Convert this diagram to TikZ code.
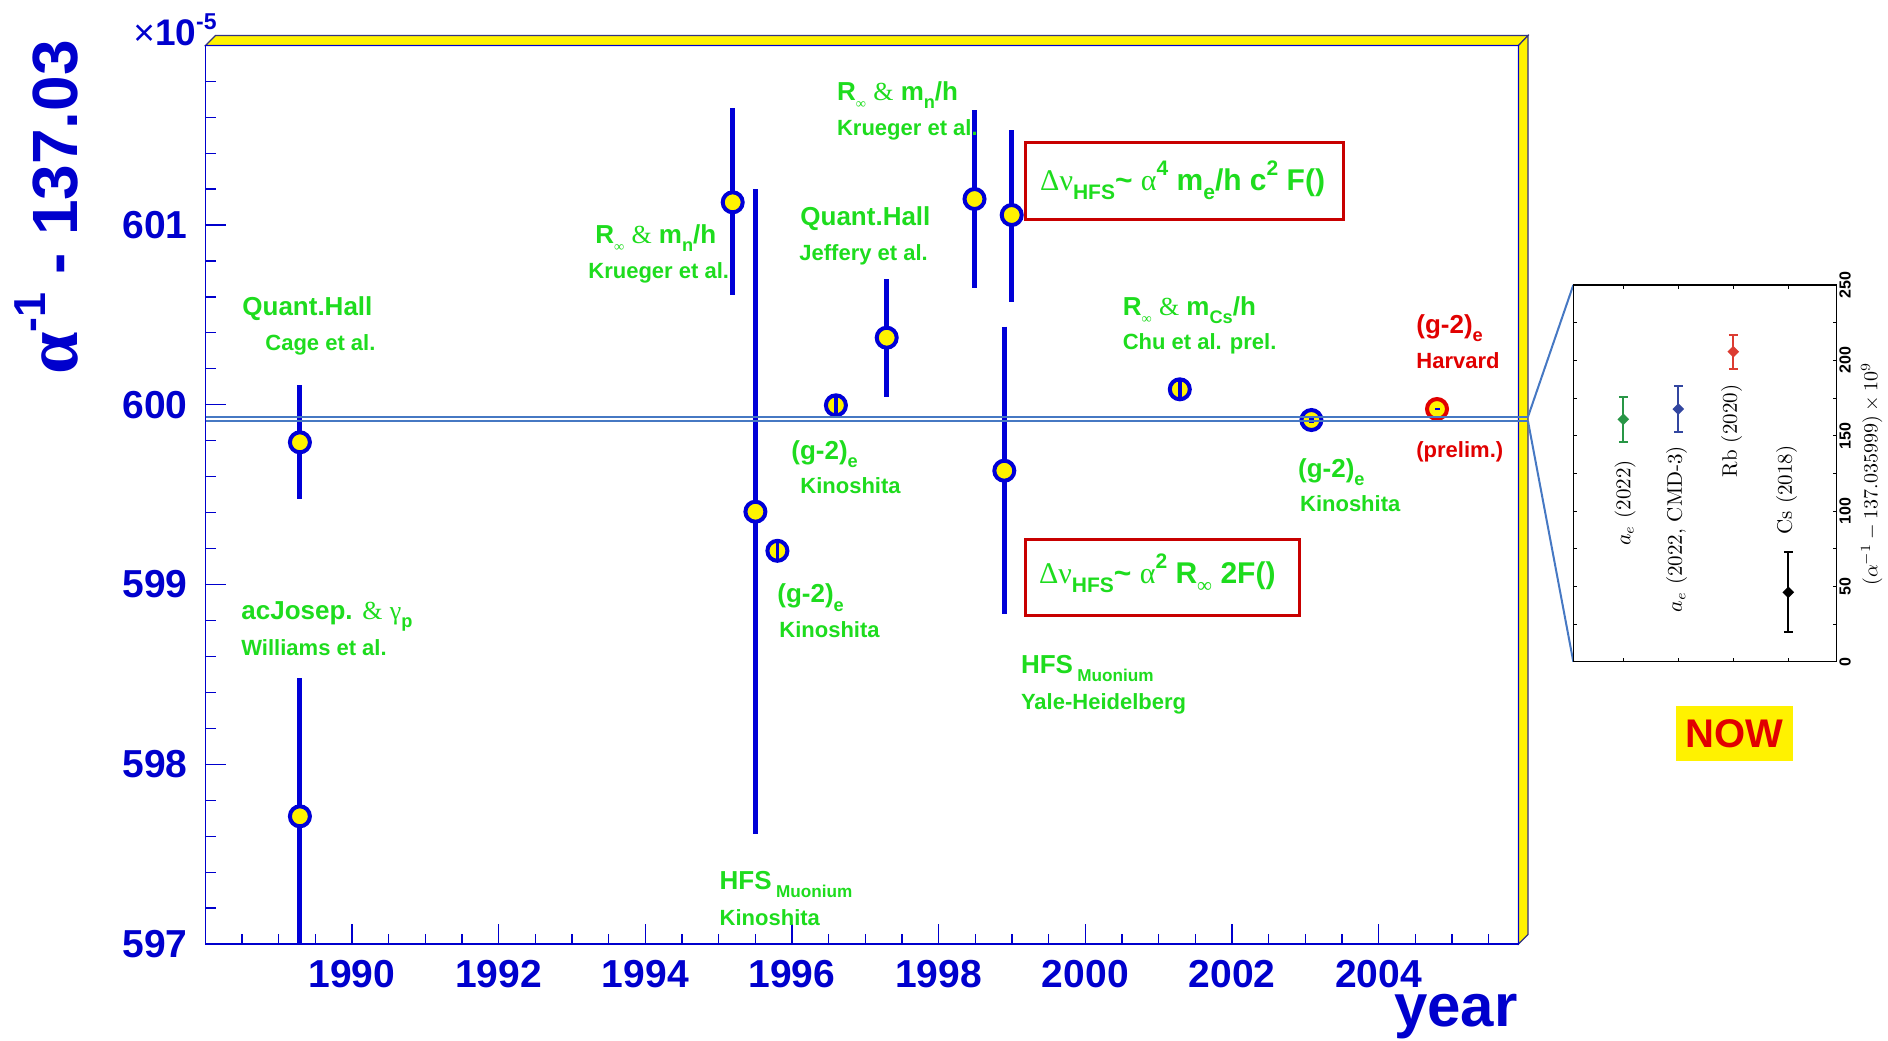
\documentclass[tikz,border=0pt]{standalone}
\usepackage{fontspec}
\usepackage{graphicx}
\usetikzlibrary{shapes.geometric}
\newfontfamily\lsans{Liberation Sans}
\newfontfamily\lserif{Liberation Serif}
\definecolor{axblue}{RGB}{0,0,205}
\definecolor{mkblue}{RGB}{0,0,215}
\definecolor{lgreen}{RGB}{30,220,30}
\definecolor{lred}{RGB}{225,0,0}
\definecolor{boxred}{RGB}{200,0,0}
\definecolor{refblue}{RGB}{70,120,195}
\definecolor{frameline}{RGB}{50,50,130}
\definecolor{igreen}{RGB}{40,150,70}
\definecolor{iblue}{RGB}{50,70,160}
\definecolor{ired}{RGB}{220,60,50}
\newcommand{\dn}[2][0.7]{\raisebox{-0.32em}{\scalebox{#1}{#2}}}
\newcommand{\upx}[2][0.7]{\raisebox{0.5em}{\scalebox{#1}{#2}}}
\newcommand{\gr}[1]{{\lserif\mdseries #1}}
\newcommand{\ipt}[6]{%
  \draw[#5, line width=1pt] (#1,#2) -- (#1,#4);
  \draw[#5, line width=1pt] ({#1-4.5},#2) -- ({#1+4.5},#2);
  \draw[#5, line width=1pt] ({#1-4.5},#4) -- ({#1+4.5},#4);
  \node[diamond, fill=#5, inner sep=0, minimum size=6pt] (#6) at (#1,#3) {};}
\tikzset{
  lab/.style={font=\lsans\bfseries\fontsize{13}{15}\selectfont, text=lgreen, inner sep=0, anchor=base west},
  slab/.style={lab, font=\lsans\bfseries\fontsize{11}{13}\selectfont},
  mk/.style={circle, draw=mkblue, fill=yellow, line width=2pt, minimum size=10pt, inner sep=0},
  bar/.style={draw=mkblue, line width=2.5pt},
  sbar/.style={draw=mkblue, line width=1.75pt},
  axnum/.style={font=\lsans\bfseries\fontsize{19.5}{22}\selectfont, text=axblue, inner sep=0},
  tickl/.style={axblue, line width=0.6pt},
  redbox/.style={draw=boxred, line width=1.5pt, inner sep=0},
  boxtxt/.style={font=\lsans\bfseries\fontsize{15}{17}\selectfont, text=lgreen, inner sep=0, anchor=base},
  reflin/.style={refblue, line width=1pt},
  ilab/.style={rotate=90, font=\fontsize{10.5}{12}\selectfont, inner sep=0},
}
\begin{document}
\begin{tikzpicture}[x=0.5pt, y=-0.5pt]
\useasboundingbox (0,0) rectangle (1888,1040);

% 3D yellow frame bands
\filldraw[fill=yellow, draw=frameline, line width=0.6pt] (205.5,45.5) -- (215.5,35.5) -- (1528,35.5) -- (1518.5,45.5) -- cycle;
\filldraw[fill=yellow, draw=frameline, line width=0.6pt] (1518.5,45.5) -- (1528,35.5) -- (1528,934.5) -- (1518.5,944) -- cycle;
% frame
\draw[axblue, line width=0.75pt] (205.5,45.5) rectangle (1518.5,944);

% x ticks
\foreach \k in {1,...,35} \draw[tickl] ({205.33+36.6667*\k},944) -- ++(0,-10);
\foreach \k in {4,8,...,32} \draw[tickl] ({205.33+36.6667*\k},944) -- ++(0,-20);
% y ticks
\foreach \j in {1,...,24} \draw[tickl] (205.5,{944-35.95*\j}) -- ++(10,0);
\foreach \j in {0,5,...,20} \draw[tickl] (205.5,{944-35.95*\j}) -- ++(20,0);

% tick labels
\foreach \v/\j in {597/0,598/5,599/10,600/15,601/20}
  \node[axnum, anchor=east] (yl\v) at (188,{944-35.95*\j}) {\v};
\foreach \yr/\k in {1990/4,1992/8,1994/12,1996/16,1998/20,2000/24,2002/28,2004/32}
  \node[axnum] (xl\yr) at ({205.33+36.6667*\k},974) {\yr};

% axis titles
\node[rotate=90, anchor=base, text=axblue, inner sep=0, font=\lsans\bfseries\fontsize{32}{36}\selectfont] (ytitle) at (77,207.5) {{\lserif\bfseries\fontsize{38}{40}\selectfont α}\upx{-1} - 137.03};
\node[anchor=base west, text=axblue, inner sep=0, font=\lsans\bfseries\fontsize{18.5}{20}\selectfont] (expo) at (133,45) {{\mdseries ×}10\raisebox{0.42em}{\scalebox{0.62}{-5}}};
\node[anchor=base east, text=axblue, inner sep=0, font=\lsans\bfseries\fontsize{30}{34}\selectfont] (xtitle) at (1518,1026) {year};

% error bars
\draw[bar] (299.9,385.3) -- (299.9,499.3);
\draw[bar] (299.9,678) -- (299.9,944);
\draw[bar] (732.7,108.3) -- (732.7,295);
\draw[bar] (755.4,189) -- (755.4,834);
\draw[bar] (886.7,279) -- (886.7,396.7);
\draw[bar] (974.5,110) -- (974.5,288.3);
\draw[bar] (1004.3,326.7) -- (1004.3,614.3);
\draw[bar] (1011.7,130) -- (1011.7,302.3);

% markers
\node[mk] (m1) at (299.9,442.3) {};
\node[mk] (m2) at (299.9,816.3) {};
\node[mk] (m3) at (732.7,202.3) {};
\node[mk] (m4) at (755.4,511.7) {};
\node[mk] (m5) at (777.4,550.8) {};
\node[mk] (m6) at (835.9,405.3) {};
\node[mk] (m7) at (886.7,337.7) {};
\node[mk] (m8) at (974.5,199) {};
\node[mk] (m9) at (1004.3,470.7) {};
\node[mk] (m10) at (1011.7,215) {};
\node[mk] (m11) at (1179.8,389.3) {};
\node[mk] (m12) at (1311.4,420) {};
\node[mk, draw=lred] (m13) at (1437,409) {};
% small error bars inside markers
\draw[sbar] (777.4,541.8) -- (777.4,559.8);
\draw[sbar] (835.9,396.3) -- (835.9,414.3);
\draw[sbar] (1179.8,380.3) -- (1179.8,398.3);
\draw[bar] (1311.4,417.5) -- (1311.4,422.5);
\draw[bar] (1437,408) -- (1437,410);

% reference lines and zoom fan
\coordinate (ra) at (205.5,416.7);
\coordinate (rb) at (1528,416.7);
\coordinate (rc) at (205.5,421.3);
\coordinate (rd) at (1528,421.3);
\coordinate (itl) at (1573.3,285);
\coordinate (ibl) at (1573.3,661.7);
\draw[reflin] (ra) -- (rb);
\draw[reflin] (rc) -- (rd);
\draw[reflin] (rb) -- (itl);
\draw[reflin] (rd) -- (ibl);

% labels
\node[lab] (l1) at (242,315) {Quant.Hall};
\node[slab] (l2) at (265,350) {Cage et al.};
\node[lab] (l3) at (241,619.3) {acJosep. \gr{\&} \gr{γ}\dn{p}};
\node[slab] (l4) at (241,655) {Williams et al.};
\node[lab] (l5) at (594.9,243.3) {R\dn[0.55]{\gr{∞}} \gr{\&} m\dn{n}/h};
\node[slab] (l6) at (588,278.3) {Krueger et al.};
\node[lab] (l7) at (836.7,100) {R\dn[0.55]{\gr{∞}} \gr{\&} m\dn{n}/h};
\node[slab] (l8) at (836.7,135) {Krueger et al.};
\node[lab] (l9) at (800,225) {Quant.Hall};
\node[slab] (l10) at (799,260) {Jeffery et al.};
\node[lab] (l11) at (791,459.3) {(g-2)\dn{e}};
\node[slab] (l12) at (800,493.3) {Kinoshita};
\node[lab] (l13) at (777,602.7) {(g-2)\dn{e}};
\node[slab] (l14) at (779,637.3) {Kinoshita};
\node[lab] (l15) at (719.3,889.3) {HFS\,\dn[0.66]{Muonium}};
\node[slab] (l16) at (719.3,925) {Kinoshita};
\node[lab] (l17) at (1020.6,673.3) {HFS\,\dn[0.66]{Muonium}};
\node[slab] (l18) at (1020.6,709) {Yale-Heidelberg};
\node[lab] (l19) at (1122.4,315) {R\dn[0.55]{\gr{∞}} \gr{\&} m\dn{Cs}/h};
\node[slab] (l20) at (1122.4,349.3) {Chu et al. prel.};
\node[lab] (l21) at (1297.7,477.3) {(g-2)\dn{e}};
\node[slab] (l22) at (1299.7,511.7) {Kinoshita};
\node[lab, text=lred] (l23) at (1416,333.3) {(g-2)\dn{e}};
\node[slab, text=lred] (l24) at (1416,368.3) {Harvard};
\node[slab, text=lred] (l25) at (1416,457.5) {(prelim.)};

% formula boxes
\node[redbox, minimum width=159.2pt, minimum height=38.5pt] (b1) at (1184.7,180.8) {};
\node[boxtxt] (t1) at (1182.6,190) {\gr{Δν}\dn{HFS}\textasciitilde{} \gr{α}\upx{4} m\dn{e}/h c\upx{2} F()};
\node[redbox, minimum width=137pt, minimum height=38.35pt] (b2) at (1162.7,577.35) {};
\node[boxtxt] (t2) at (1157.3,583.3) {\gr{Δν}\dn{HFS}\textasciitilde{} \gr{α}\upx{2} R\dn{\gr{∞}} 2F()};

% inset
\draw[black, line width=0.75pt] (itl) rectangle (1836.7,661.7);
\foreach \v in {0,25,...,250} {
  \draw[black, line width=0.5pt] (1836.7,{661.7-1.5068*\v}) -- ++(-4,0);
  \draw[black, line width=0.5pt] (1573.3,{661.7-1.5068*\v}) -- ++(4,0);
}
\foreach \xc in {1623.3,1678.3,1733.3,1788.3} {
  \draw[black, line width=0.5pt] (\xc,661.7) -- ++(0,-4);
  \draw[black, line width=0.5pt] (\xc,285) -- ++(0,4);
}
\foreach \v in {0,50,...,250}
  \node[rotate=90, inner sep=0, font=\lsans\bfseries\fontsize{8}{9}\selectfont] (it\v) at (1845,{661.7-1.5068*\v}) {\v};
\node[rotate=90, inner sep=0, font=\fontsize{10}{12}\selectfont] (iax) at (1871.7,474) {$(\alpha^{-1} - 137.035999) \times 10^9$};
\ipt{1623.3}{396.7}{419.3}{442.3}{igreen}{p1}
\ipt{1678.3}{386}{409}{432}{iblue}{p2}
\ipt{1733.3}{335}{351.7}{369}{ired}{p3}
\ipt{1788.3}{551.7}{592.3}{632.3}{black}{p4}
\node[ilab] (q1) at (1625,503) {$a_e$ (2022)};
\node[ilab] (q2) at (1676.7,529) {$a_e$ (2022, CMD-3)};
\node[ilab] (q3) at (1731.7,431) {Rb (2020)};
\node[ilab] (q4) at (1786.7,490) {Cs (2018)};

% NOW
\node[fill=yellow, text=lred, inner sep=0, minimum width=58.5pt, minimum height=27.7pt, font=\lsans\bfseries\fontsize{20}{22}\selectfont] (now) at (1734.5,733.3) {NOW};
\end{tikzpicture}
\end{document}
